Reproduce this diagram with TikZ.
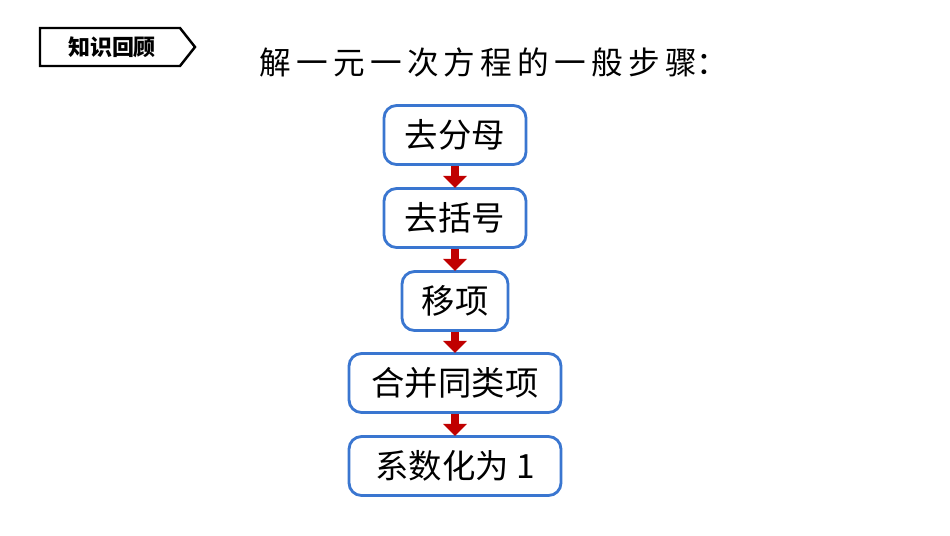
\documentclass[tikz,border=0pt]{standalone}
\usepackage{fontspec}
\setmainfont{Noto Sans CJK SC}
\usetikzlibrary{arrows.meta, positioning}
\definecolor{boxblue}{RGB}{58, 118, 208}
\definecolor{arrowred}{RGB}{192, 0, 0}

\begin{document}
\begin{tikzpicture}[x=0.02cm, y=-0.02cm,
    stepbox/.style={draw=boxblue, line width=1.6pt, rounded corners=2.5mm, fill=white,
        minimum height=1.18cm, font=\fontsize{19}{22}\selectfont, inner xsep=2mm},
    flow/.style={arrowred, line width=5pt, -{Triangle[length=2.4mm, width=4.6mm]}, shorten >=-0.5pt},
    badge/.style={font=\fontsize{12.5}{14}\selectfont\bfseries}
]
\useasboundingbox (0,0) rectangle (950,535);

% Badge
\draw[line width=1.4pt] (40,28) -- (180,28) -- (195,47) -- (180,66) -- (40,66) -- cycle;
\node[badge] (badge) at (112,47) {知识回顾};

% Title
\node[font=\fontsize{18}{22}\selectfont] (title) at (494,62) {解\,一\,元\,一\,次\,方\,程\,的\,一\,般\,步\,骤：};

% Steps
\node[stepbox, minimum width=2.84cm] (s1) at (455,135) {去分母};
\node[stepbox, minimum width=2.84cm] (s2) at (455,218) {去括号};
\node[stepbox, minimum width=2.12cm] (s3) at (455,301) {移项};
\node[stepbox, minimum width=4.24cm] (s4) at (455,383) {合并同类项};
\node[stepbox, minimum width=4.24cm] (s5) at (455,466) {系数化为 1};

% Arrows
\draw[flow] (s1) -- (s2);
\draw[flow] (s2) -- (s3);
\draw[flow] (s3) -- (s4);
\draw[flow] (s4) -- (s5);

\end{tikzpicture}
\end{document}
